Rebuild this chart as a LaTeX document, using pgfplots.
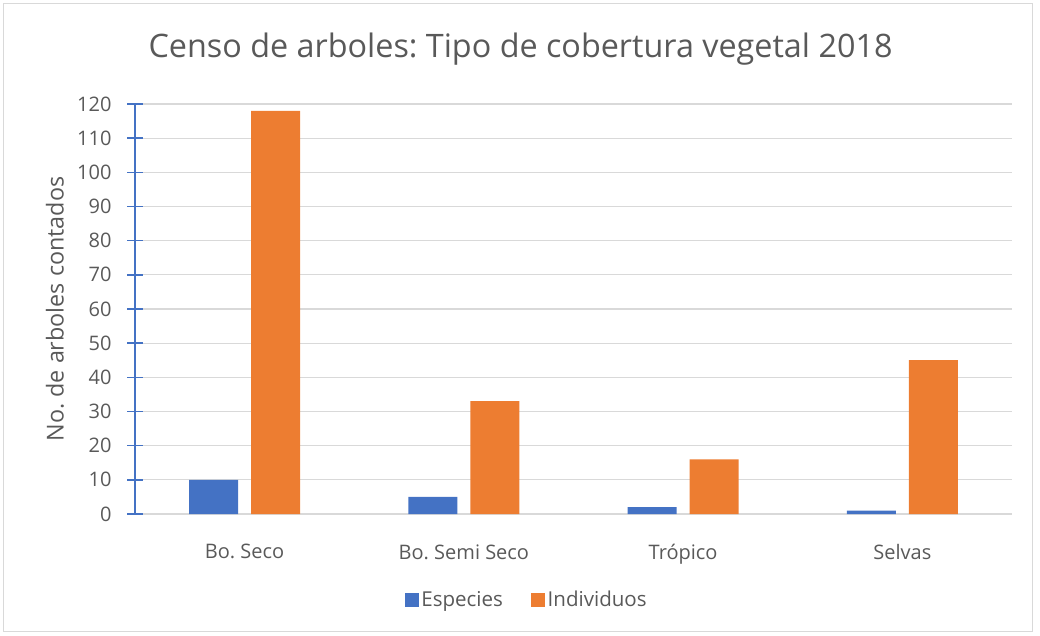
\documentclass[border=0pt]{standalone}
\usepackage{pgfplots}
\pgfplotsset{compat=1.18}
\usepackage{fontspec}
\setmainfont{Open Sans}
\frenchspacing
\definecolor{cblue}{HTML}{4472C4}
\definecolor{corange}{HTML}{ED7D31}
\definecolor{ctext}{HTML}{595959}
\definecolor{cgrid}{HTML}{D9D9D9}
\begin{document}
\begin{tikzpicture}
\useasboundingbox (0pt,0pt) rectangle (780pt,477pt);
\draw[cgrid, line width=0.75pt] (2.25pt,3pt) rectangle (774pt,474pt);
\node[text=ctext, font=\fontsize{24.25}{29}\selectfont] at (390.4pt,440pt) {Censo de arboles: Tipo de cobertura vegetal 2018};
\begin{axis}[
  at={(101.25pt,91.5pt)}, anchor=south west,
  scale only axis, width=657.75pt, height=307.5pt,
  xmin=-0.5, xmax=3.5, ymin=0, ymax=120,
  enlargelimits=false,
  xtick={0,1,2,3},
  xticklabels={Bo. Seco, Bo. Semi Seco, Trópico, Selvas},
  ytick={0,10,...,120},
  axis lines*=left,
  axis line style={-},
  x axis line style={draw=none},
  y axis line style={draw=cblue, line width=1.2pt},
  xtick style={draw=none},
  ytick style={draw=cblue, line width=1.2pt},
  tick align=center,
  major tick length=11.25pt,
  ymajorgrids,
  major grid style={draw=cgrid, line width=0.9pt},
  /pgf/number format/assume math mode=true,
  tick label style={text=ctext, font=\fontsize{15}{18}\selectfont},
  yticklabel style={xshift=-8.5pt},
  xticklabel style={yshift=-8pt},
  ylabel={No. de arboles contados},
  ylabel style={at={(axis description cs:-0.0912,0.5)}, anchor=center, text=ctext, font=\fontsize{17.5}{20}\selectfont},
  legend style={at={(axis description cs:0.447,-0.21)}, anchor=center, draw=none, fill=none,
    legend columns=2, font=\fontsize{15.4}{18}\selectfont, text=ctext,
    /tikz/every even column/.append style={column sep=19pt}},
  ybar, bar width=0.224,
  legend image code/.code={\fill[#1,draw=none] (0pt,-5.25pt) rectangle (10.5pt,5.25pt);},
]
\addplot[fill=cblue, draw=none, bar shift=-0.1415] coordinates {(0,10) (1,5) (2,2) (3,1)};
\addplot[fill=corange, draw=none, bar shift=0.1415] coordinates {(0,118) (1,33) (2,16) (3,45)};
\legend{Especies, Individuos}
\end{axis}
\end{tikzpicture}
\end{document}
